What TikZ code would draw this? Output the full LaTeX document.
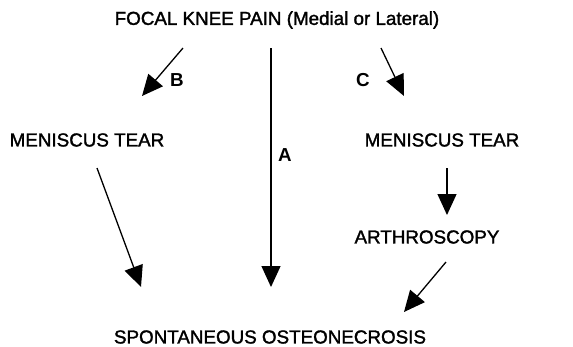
\documentclass[tikz,border=0pt]{standalone}
\usepackage{fontspec}
\setmainfont{Liberation Sans}
\newfontfamily\medfont[FakeBold=1.6]{Liberation Sans}
\usetikzlibrary{positioning, arrows.meta}

\begin{document}
\begin{tikzpicture}[
      x=1pt, y=-1pt,
      node_txt/.style={inner sep=0pt, font=\medfont\fontsize{18.8}{20}\selectfont},
      node_lbl/.style={inner sep=0pt, font=\fontsize{18.8}{20}\selectfont\bfseries},
      edge_path/.style={-{Triangle[length=21pt, width=19pt]}, line width=1.3pt}
    ]
      \useasboundingbox (0,0) rectangle (573,346);
      \node[node_txt] (Pain) at (277,20) {FOCAL KNEE PAIN (Medial or Lateral)};
      \node[node_txt] (TearL) at (87,140) {MENISCUS TEAR};
      \node[node_txt] (TearR) at (442,140) {MENISCUS TEAR};
      \node[node_txt] (Arth) at (427,237) {ARTHROSCOPY};
      \node[node_txt] (Spon) at (270,337) {SPONTANEOUS OSTEONECROSIS};

      \node[node_lbl] (A) at (285,155) {A};
      \node[node_lbl] (B) at (177,80) {B};
      \node[node_lbl] (C) at (363,80) {C};

      \coordinate (a1) at (271,48);  \coordinate (a2) at (271,287);
      \coordinate (b1) at (183,48);  \coordinate (b2) at (142,96);
      \coordinate (c1) at (381,48);  \coordinate (c2) at (404,96);
      \coordinate (d1) at (97,168);  \coordinate (d2) at (141,287);
      \coordinate (e1) at (447,168); \coordinate (e2) at (447,215);
      \coordinate (f1) at (446,262); \coordinate (f2) at (404,312);

      \draw[edge_path] (a1) to (a2);
      \draw[edge_path] (b1) to (b2);
      \draw[edge_path] (c1) to (c2);
      \draw[edge_path] (d1) to (d2);
      \draw[edge_path] (e1) to (e2);
      \draw[edge_path] (f1) to (f2);
    \end{tikzpicture}
\end{document}
